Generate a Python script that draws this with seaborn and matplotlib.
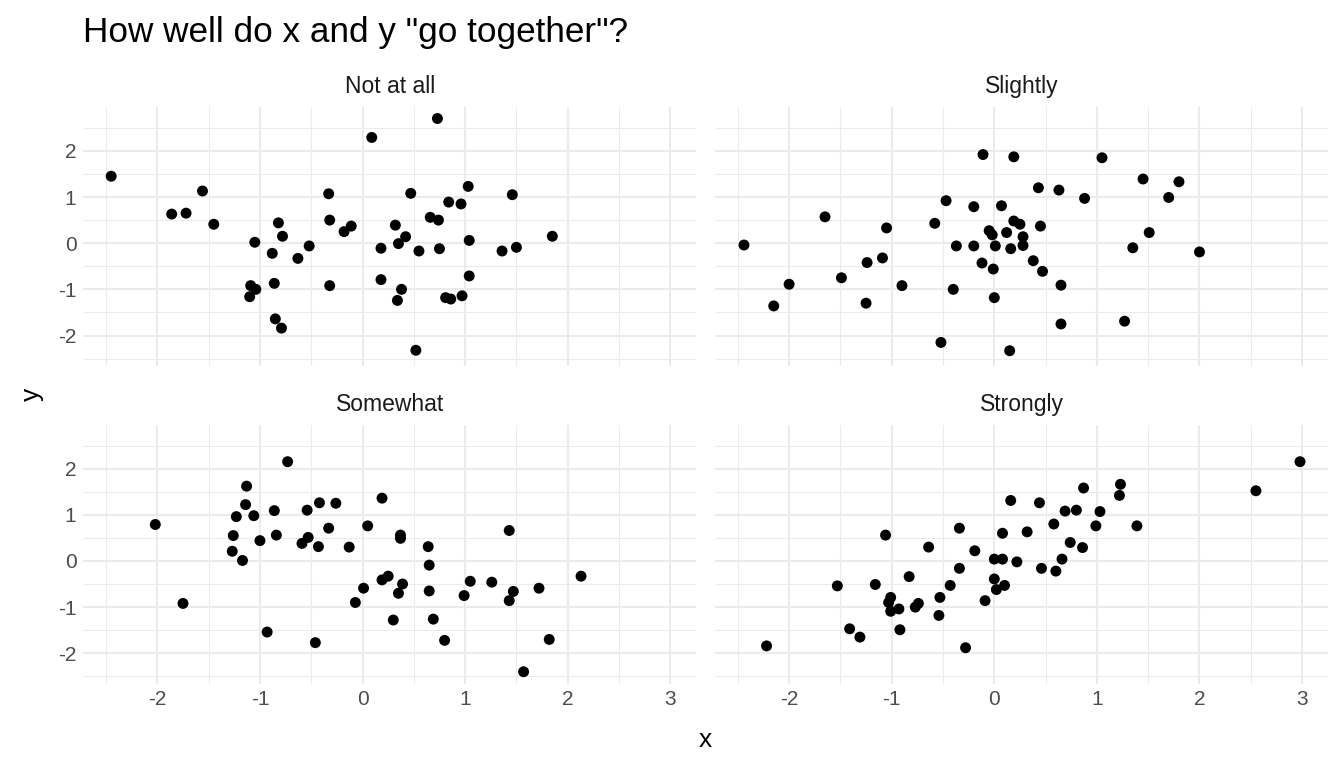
import numpy as np
import pandas as pd
import matplotlib.pyplot as plt
import seaborn as sns
from matplotlib.ticker import MultipleLocator
plt.switch_backend('Agg')

# panel titles
panels = ["Not at all", "Slightly", "Somewhat", "Strongly"]

# values
x_not = [-2.45, -1.86, -1.72, -1.56, -1.45, -1.05, -1.09, -1.04, -1.10, -0.88,
         -0.82, -0.78, -0.86, -0.85, -0.79, -0.63, -0.52, -0.33, -0.32, -0.32,
         -0.18, -0.11, 0.18, 0.18, 0.09, 0.73, 0.47, 1.03, 0.84, 0.96,
         1.46, 0.66, 0.74, 0.32, 0.42, 0.35, 0.55, 0.75, 1.04, 1.36,
         1.50, 1.85, 0.38, 0.34, 1.04, 0.81, 0.86, 0.97, 0.52]
y_not = [1.45, 0.63, 0.65, 1.13, 0.41, 0.02, -0.92, -1.00, -1.16, -0.22,
         0.44, 0.15, -0.87, -1.64, -1.84, -0.33, -0.06, 1.07, 0.50, -0.92,
         0.25, 0.37, -0.11, -0.79, 2.29, 2.70, 1.08, 1.23, 0.89, 0.85,
         1.05, 0.56, 0.50, 0.39, 0.14, -0.01, -0.17, -0.12, 0.06, -0.17,
         -0.09, 0.15, -1.00, -1.24, -0.71, -1.18, -1.21, -1.14, -2.32]

x_slight = [-2.44, -2.00, -2.15, -1.65, -1.49, -1.24, -1.09, -1.05, -1.25, -0.90,
            -0.58, -0.47, -0.40, -0.37, -0.20, -0.20, -0.11, -0.12, -0.01, 0.00,
            -0.05, -0.02, 0.07, 0.01, 0.12, 0.16, 0.19, 0.19, -0.52, 0.15,
            1.05, 0.43, 0.63, 0.88, 1.45, 1.80, 1.70, 0.25, 0.45, 0.28,
            0.28, 0.38, 0.47, 0.65, 0.65, 1.27, 1.51, 1.35, 2.00]
y_slight = [-0.04, -0.89, -1.36, 0.57, -0.75, -0.42, -0.32, 0.33, -1.30, -0.92,
            0.43, 0.92, -1.00, -0.06, 0.79, -0.06, 1.92, -0.43, -0.56, -1.18,
            0.27, 0.18, 0.81, -0.06, 0.23, -0.12, 0.48, 1.87, -2.15, -2.33,
            1.85, 1.20, 1.15, 0.97, 1.39, 1.33, 0.99, 0.41, 0.37, 0.14,
            -0.05, -0.38, -0.61, -0.91, -1.75, -1.69, 0.23, -0.10, -0.19]

x_some = [-2.02, -1.75, -1.13, -1.14, -1.23, -1.06, -1.26, -1.00, -1.27, -1.17,
          -0.86, -0.84, -0.73, -0.54, -0.42, -0.26, -0.33, -0.59, -0.53, -0.43,
          -0.13, 0.05, 0.19, 0.01, -0.07, 0.19, 0.25, -0.93, -0.46, 0.37,
          0.37, 0.64, 0.65, 1.43, 0.39, 0.35, 0.65, 1.05, 0.99, 1.26,
          1.47, 1.43, 1.72, 2.13, 0.30, 0.69, 0.80, 1.82, 1.57]
y_some = [0.79, -0.92, 1.62, 1.22, 0.96, 0.98, 0.55, 0.44, 0.21, 0.01,
          1.09, 0.56, 2.15, 1.10, 1.26, 1.25, 0.71, 0.38, 0.51, 0.31,
          0.30, 0.76, 1.36, -0.59, -0.90, -0.41, -0.33, -1.54, -1.77, 0.56,
          0.49, 0.31, -0.09, 0.66, -0.50, -0.70, -0.65, -0.44, -0.75, -0.46,
          -0.66, -0.86, -0.59, -0.33, -1.28, -1.26, -1.72, -1.70, -2.40]

x_strong = [-2.22, -1.53, -1.41, -1.31, -1.16, -1.06, -1.01, -1.03, -1.01, -0.93,
            -0.92, -0.83, -0.77, -0.74, -0.64, -0.54, -0.53, -0.43, -0.34, -0.34,
            -0.28, -0.19, -0.09, 0.00, 0.02, 0.10, 0.00, 0.08, 0.08, 0.16,
            0.22, 2.98, 2.55, 0.87, 1.23, 1.22, 0.44, 0.69, 0.80, 1.03,
            0.58, 0.99, 1.39, 0.32, 0.74, 0.86, 0.66, 0.46, 0.60]
y_strong = [-1.84, -0.54, -1.47, -1.65, -0.51, 0.56, -0.79, -0.90, -1.09, -1.04,
            -1.49, -0.34, -1.00, -0.92, 0.30, -1.18, -0.79, -0.53, 0.71, -0.16,
            -1.88, 0.22, -0.86, -0.39, -0.62, -0.53, 0.04, 0.04, 0.60, 1.31,
            -0.02, 2.15, 1.52, 1.58, 1.66, 1.42, 1.26, 1.08, 1.10, 1.07,
            0.80, 0.76, 0.76, 0.63, 0.40, 0.29, 0.04, -0.16, -0.22]

xs = [x_not, x_slight, x_some, x_strong]
ys = [y_not, y_slight, y_some, y_strong]

df = pd.concat([pd.DataFrame({"x": a, "y": b, "panel": p})
                for a, b, p in zip(xs, ys, panels)], ignore_index=True)

sns.set_theme(style="white")
plt.rcParams['font.family'] = ['Liberation Sans', 'DejaVu Sans']
plt.rcParams['axes.unicode_minus'] = False

fig, axes = plt.subplots(2, 2, figsize=(13.44, 7.68), dpi=100, sharex=True, sharey=True)
fig.subplots_adjust(left=0.062, right=0.988, top=0.861, bottom=0.110,
                    wspace=0.031, hspace=0.227)

# ggplot-style 5% expansion
xmin, xmax = df["x"].min(), df["x"].max()
ymin, ymax = df["y"].min(), df["y"].max()
xpad = (xmax - xmin) * 0.05
ypad = (ymax - ymin) * 0.05

for ax, p in zip(axes.flat, panels):
    sns.scatterplot(data=df[df["panel"] == p], x="x", y="y", ax=ax,
                    color="black", s=62, edgecolor="none", zorder=3)
    ax.set_xlim(xmin - xpad, xmax + xpad)
    ax.set_ylim(ymin - ypad, ymax + ypad)
    ax.xaxis.set_major_locator(MultipleLocator(1))
    ax.xaxis.set_minor_locator(MultipleLocator(0.5))
    ax.yaxis.set_major_locator(MultipleLocator(1))
    ax.yaxis.set_minor_locator(MultipleLocator(0.5))
    ax.grid(which="major", color="#EBEBEB", lw=1.5, zorder=0)
    ax.grid(which="minor", color="#EBEBEB", lw=0.75, zorder=0)
    ax.set_axisbelow(True)
    for s in ax.spines.values():
        s.set_visible(False)
    ax.tick_params(which="both", length=0, labelsize=15, labelcolor="#4D4D4D", pad=5)
    ax.set_title(p, fontsize=16.5, color="#1A1A1A", pad=10)
    ax.set_xlabel("")
    ax.set_ylabel("")

fig.text(0.525, 0.036, "x", fontsize=19, ha="center", va="center", color="black")
fig.text(0.024, 0.487, "y", fontsize=19, ha="center", va="center", rotation=90,
         color="black")
fig.text(0.062, 0.958, 'How well do x and y "go together"?', fontsize=25.3,
         ha="left", va="center", color="black")

plt.savefig("out.png", dpi=100)
